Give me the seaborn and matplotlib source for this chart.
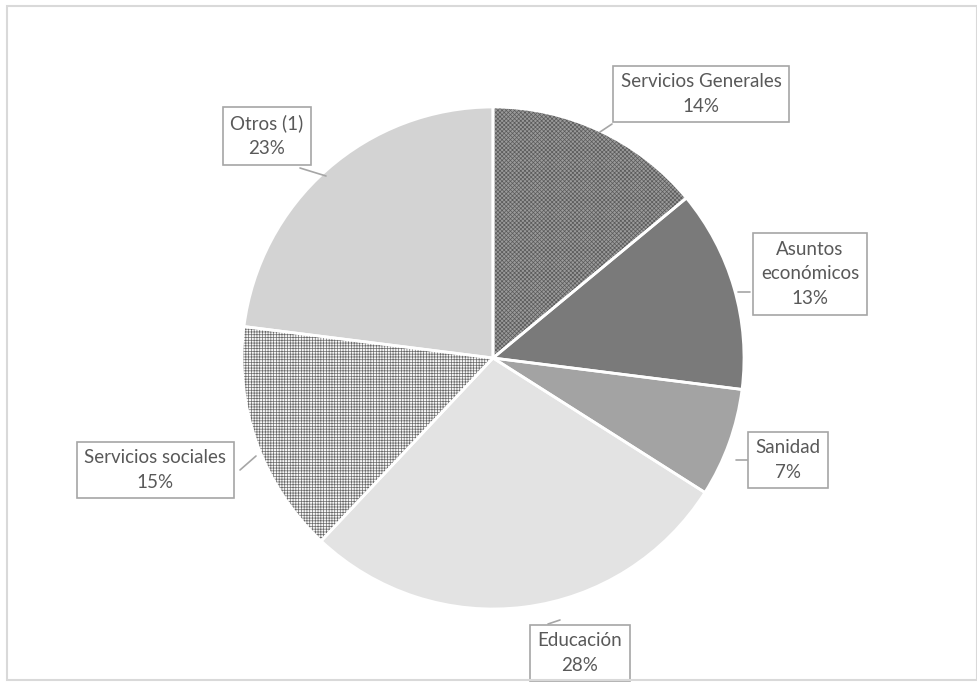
import matplotlib
matplotlib.use("Agg")
import matplotlib.pyplot as plt
from matplotlib.patches import Rectangle
import seaborn as sns

# Distribution of spending by function (%)
categories = ["Servicios Generales", "Asuntos\neconómicos", "Sanidad",
              "Educación", "Servicios sociales", "Otros (1)"]
values = [14, 13, 7, 28, 15, 23]
fill_colors = ["#9a9a9a", "#7a7a7a", "#a3a3a3", "#e3e3e3", "#f7f7f7", "#d3d3d3"]
hatches = ["xxxxxxxx", None, None, None, "++++++", None]
hatch_colors = ["#5a5a5a", None, None, None, "#6a6a6a", None]

# label box centres and leader-line ends (figure pixel space, y downwards)
label_pos = [(701, 94), (810, 274), (788, 460), (580, 653), (155, 470), (267, 136)]
leader_to = [(600, 132), (738, 292), (736, 460), (548, 624), (256, 456), (326, 176)]
leader_from = [(612, 124), (750, 292), (748, 460), (560, 620), (240, 470), (300, 168)]

sns.set_theme(style="white")
plt.rcParams["font.family"] = ["Lato", "DejaVu Sans"]
plt.rcParams["hatch.linewidth"] = 0.5

W, H = 978, 682
fig = plt.figure(figsize=(W / 100, H / 100), dpi=100)
ax = fig.add_axes([0, 0, 1, 1])

cx, cy, r = 493, H - 358, 251

# base fill
ax.pie(values, colors=fill_colors, startangle=90, counterclock=False,
       center=(cx, cy), radius=r, frame=True,
       wedgeprops=dict(linewidth=0))
# hatched texture on selected wedges
hw, _ = ax.pie(values, colors=["none"] * len(values), startangle=90,
               counterclock=False, center=(cx, cy), radius=r, frame=True,
               wedgeprops=dict(linewidth=0))
for w, h, hc in zip(hw, hatches, hatch_colors):
    if h:
        w.set_hatch(h)
        w.set_edgecolor(hc)
    else:
        w.set_visible(False)
# white separators
ax.pie(values, colors=["none"] * len(values), startangle=90, counterclock=False,
       center=(cx, cy), radius=r, frame=True,
       wedgeprops=dict(edgecolor="white", linewidth=2))
ax.set_xlim(0, W)
ax.set_ylim(0, H)
ax.set_aspect("equal")
ax.axis("off")

# callout labels
for cat, v, (lx, ly), (tx, ty), (fx, fy) in zip(categories, values, label_pos,
                                                 leader_to, leader_from):
    ax.plot([fx, tx], [H - fy, H - ty], color="#a6a6a6", lw=1.2, zorder=4)
    ax.text(lx, H - ly, f"{cat}\n{v}%", ha="center", va="center",
            fontsize=13.5, color="#595959", linespacing=1.55, zorder=5,
            bbox=dict(boxstyle="square,pad=0.4", facecolor="white",
                      edgecolor="#a6a6a6", linewidth=1.2))

# outer chart frame
ax.add_patch(Rectangle((7, 2), 970, H - 8, fill=False, edgecolor="#d9d9d9",
                       linewidth=1.5, zorder=6))

fig.savefig("out.png", dpi=100)
